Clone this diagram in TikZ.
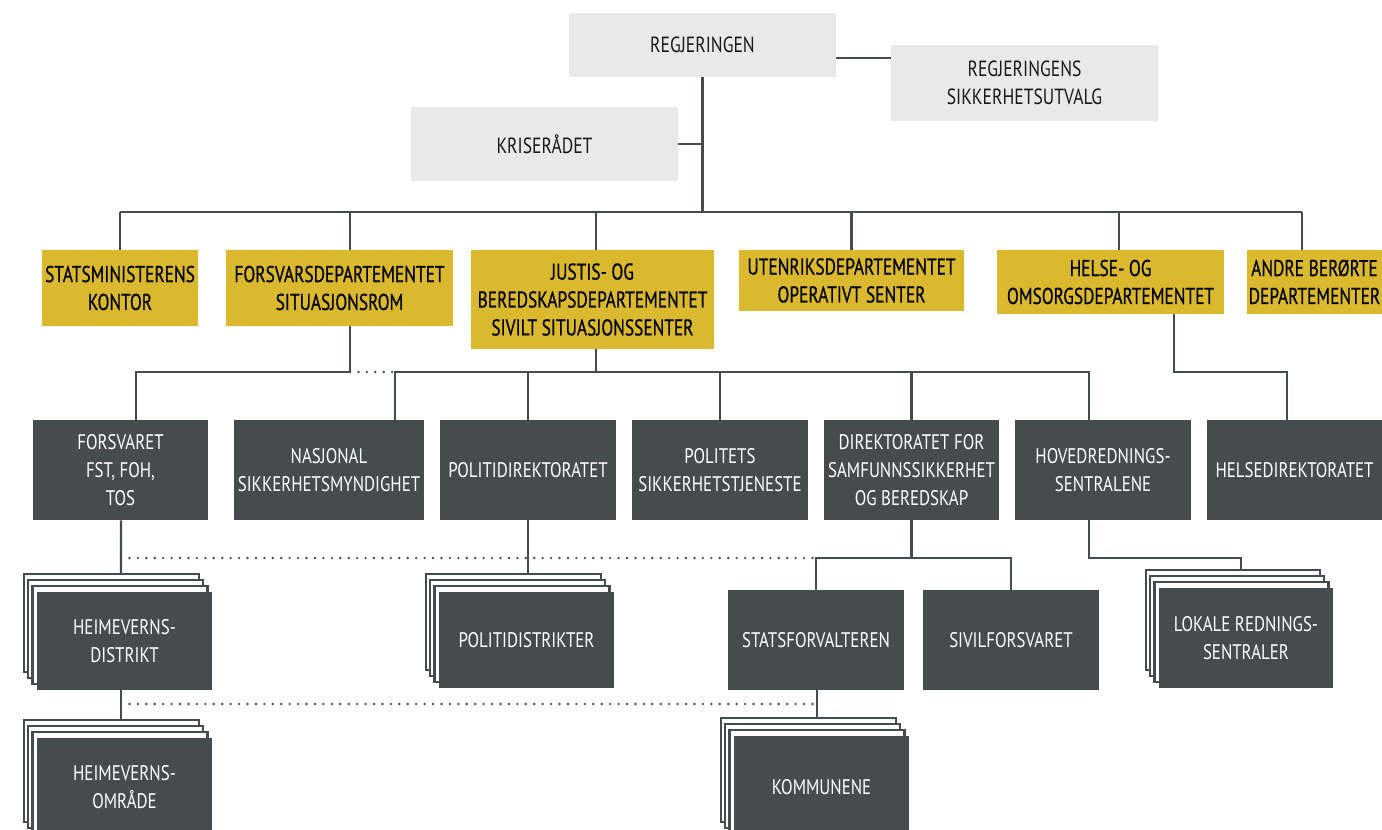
\documentclass[tikz,border=0pt]{standalone}
\usepackage{fontspec}
\setmainfont{PT Sans}[FakeStretch=0.8]
\newfontfamily\yfont{PT Sans}[FakeStretch=0.76,FakeBold=0.5]
\usetikzlibrary{calc}
\definecolor{gboxc}{HTML}{E9E9E9}
\definecolor{yboxc}{HTML}{DBB92E}
\definecolor{dboxc}{HTML}{454C4E}
\definecolor{lnc}{HTML}{454C4E}
\begin{document}
\begin{tikzpicture}[x=0.02cm,y=-0.02cm,
  base/.style={inner sep=0pt, align=center},
  box/.style n args={4}{minimum width={(#3-#1)*0.02cm}, minimum height={(#4-#2)*0.02cm}, at={({(#1+#3)/2},{(#2+#4)/2})}},
  gbx/.style={base, fill=gboxc, text=black!90, font=\fontsize{12.5}{15.9}\selectfont},
  ybx/.style={base, fill=yboxc, text=black, font=\yfont\fontsize{13}{15.9}\selectfont},
  dbx/.style={base, fill=dboxc, text=white, font=\fontsize{12}{15.9}\selectfont},
  conn/.style={draw=lnc, line width=1.4pt},
  dots/.style={draw=lnc, line width=1.5pt, line cap=round, dash pattern=on 0pt off 4.8pt},
  layer/.style={fill=white, draw=lnc, line width=1.3pt}]
\clip (0,0) rectangle (1382,830);
\fill[white] (0,0) rectangle (1382,830);
\newcommand\stackbg[4]{\foreach \k in {3,2,1}{\path[layer] (#1-4.4*\k,#2-6*\k) rectangle (#3-4.4*\k,#4-6*\k);}}
% top level
\node[gbx, box={569}{13}{836}{77}] (reg) {REGJERINGEN};
\node[gbx, box={891}{45}{1158}{121}] (sik) {REGJERINGENS\\SIKKERHETSUTVALG};
\node[gbx, box={411}{107}{678}{181}] (kri) {KRISERÅDET};
% yellow
\node[ybx, box={42}{250}{198}{326}] (smk) {STATSMINISTERENS\\KONTOR};
\node[ybx, box={226}{250}{453}{326}] (fd) {FORSVARSDEPARTEMENTET\\SITUASJONSROM};
\node[ybx, box={471}{250}{714}{349}] (jd) {JUSTIS- OG\\BEREDSKAPSDEPARTEMENTET\\SIVILT SITUASJONSSENTER};
\node[ybx, box={739}{250}{964}{311}] (ud) {UTENRIKSDEPARTEMENTET\\OPERATIVT SENTER};
\node[ybx, box={997}{250}{1224}{314}] (hod) {HELSE- OG\\OMSORGSDEPARTEMENTET};
\node[ybx, box={1247}{250}{1382}{314}] (andre) {ANDRE BERØRTE\\DEPARTEMENTER};
% dark row
\node[dbx, box={33}{420}{208}{520}] (fors) {FORSVARET\\FST, FOH,\\TOS};
\node[dbx, box={234}{420}{424}{520}] (nsm) {NASJONAL\\SIKKERHETSMYNDIGHET};
\node[dbx, box={440}{420}{616}{520}] (pdir) {POLITIDIREKTORATET};
\node[dbx, box={632}{420}{808}{520}] (pst) {POLITETS\\SIKKERHETSTJENESTE};
\node[dbx, box={824}{420}{999}{520}] (dsb) {DIREKTORATET FOR\\SAMFUNNSSIKKERHET\\OG BEREDSKAP};
\node[dbx, box={1015}{420}{1191}{520}] (hrs) {HOVEDREDNINGS-\\SENTRALENE};
\node[dbx, box={1207}{420}{1382}{520}] (hdir) {HELSEDIREKTORATET};
% third row
\stackbg{37}{592}{212}{690}
\node[dbx, box={37}{592}{212}{690}] (hvd) {HEIMEVERNS-\\DISTRIKT};
\stackbg{439}{592}{614}{688}
\node[dbx, box={439}{592}{614}{688}] (pd) {POLITIDISTRIKTER};
\node[dbx, box={728}{590}{904}{690}] (sf) {STATSFORVALTEREN};
\node[dbx, box={923}{590}{1099}{690}] (siv) {SIVILFORSVARET};
\stackbg{1159}{588}{1333}{688}
\node[dbx, box={1159}{588}{1333}{688}] (lrs) {LOKALE REDNINGS-\\SENTRALER};
% fourth row
\stackbg{37}{738}{212}{840}
\node[dbx, box={37}{738}{212}{840}] (hvo) {};
\node[dbx, fill=none, at={(124.5,787)}] (hvot) {HEIMEVERNS-\\OMRÅDE};
\stackbg{734}{736}{909}{840}
\node[dbx, box={734}{736}{909}{840}] (kom) {};
\node[dbx, fill=none, at={(821.5,787)}] (komt) {KOMMUNENE};
% stack top coordinates
\coordinate (hvdtop) at (121,574);
\coordinate (pdtop) at (528,574);
\coordinate (lrstop) at (1241,570);
\coordinate (hvotop) at (121,720);
\coordinate (komtop) at (817,718);
% bus levels
\coordinate (b1) at (0,212);
\coordinate (b2) at (0,372);
\coordinate (b3) at (0,558);
\coordinate (b4) at (0,704);
% connectors top
\draw[conn] (reg.south) -- (reg.south |- b1);
\coordinate (rs) at ($(reg.east)+(0,13)$);
\draw[conn] (rs) -- (rs -| sik.west);
\draw[conn] (kri.east) -- (kri.east -| reg.south);
\coordinate (xsmk) at (smk.north);
\coordinate (xfd) at ($(fd.north)+(10.5,0)$);
\coordinate (xjd) at ($(jd.north)+(3.5,0)$);
\coordinate (xud) at (ud.north);
\coordinate (xhod) at ($(hod.north)+(8.5,0)$);
\coordinate (xandre) at ($(andre.north)+(-12.5,0)$);
\draw[conn] (xsmk |- b1) -- (xandre |- b1);
\foreach \c in {xsmk,xfd,xjd,xud,xhod,xandre}{\draw[conn] (\c |- b1) -- (\c);}
% second level
\coordinate (yfd) at ($(fd.south)+(10.5,0)$);
\coordinate (yfors) at ($(fors.north)+(15.5,0)$);
\draw[conn] (yfd) |- (yfors |- b2) -- (yfors);
\coordinate (ynsm) at ($(nsm.north)+(66,0)$);
\draw[dots] (yfd |- b2) -- (ynsm |- b2);
\coordinate (yjd) at ($(jd.south)+(3.5,0)$);
\coordinate (yhrs) at ($(hrs.north)+(-14,0)$);
\draw[conn] (yjd) -- (yjd |- b2);
\draw[conn] (ynsm) |- (yhrs |- b2) -- (yhrs);
\foreach \n in {pdir,pst,dsb}{\draw[conn] (\n.north |- b2) -- (\n.north);}
\coordinate (yhod) at ($(hod.south)+(63.5,0)$);
\coordinate (yhdir) at ($(hdir.north)+(-7.5,0)$);
\draw[conn] (yhod) |- (yhdir |- b2) -- (yhdir);
% third level
\coordinate (zfors) at ($(fors.south)+(0.5,0)$);
\draw[conn] (zfors) -- (hvdtop);
\draw[dots] (zfors |- b3) -- ($(sf.north |- b3)+(-3,0)$);
\draw[conn] (pdir.south) -- (pdtop);
\draw[conn] (dsb.south) -- (dsb.south |- b3);
\draw[conn] (sf.north) |- (siv.north |- b3) -- (siv.north);
\coordinate (zhrs) at ($(hrs.south)+(-14,0)$);
\draw[conn] (zhrs) |- (lrstop |- b3) -- (lrstop);
% fourth level
\draw[conn] (hvd.south -| hvotop) -- (hvotop);
\draw[dots] (hvotop |- b4) -- ($(komtop |- b4)+(-3,0)$);
\draw[conn] (sf.south -| komtop) -- (komtop);
\end{tikzpicture}
\end{document}
